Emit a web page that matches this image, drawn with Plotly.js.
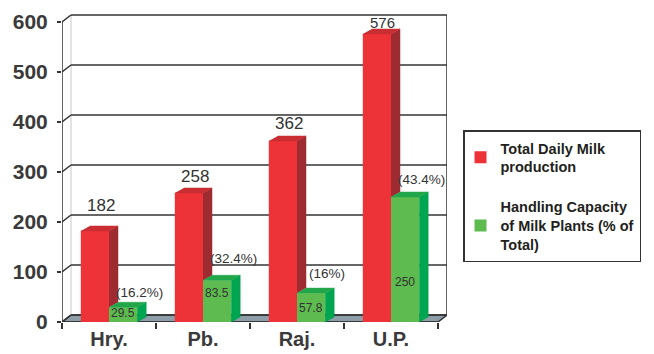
<!DOCTYPE html>
<html>
<head>
<meta charset="utf-8">
<script src="https://cdn.plot.ly/plotly-3.0.1.min.js"></script>
<style>
  html, body { margin: 0; padding: 0; background: #fff; }
  #chart { width: 654px; height: 354px; }
</style>
</head>
<body>
<div id="chart"></div>
<script>
// States and the two series (thousand tonnes per day)
const states = ['Hry.', 'Pb.', 'Raj.', 'U.P.'];
const milkProduction = [182, 258, 362, 576];
const plantCapacity = [29.5, 83.5, 57.8, 250];
const yTicks = [0, 100, 200, 300, 400, 500, 600];

// Pixel scale of the plot area, used to turn the 3-D depth offsets into axis units
const PX_PER_CAT = 94;
const PX_PER_UNIT = 0.5;
const wallDX = 9 / PX_PER_CAT, wallDY = 7 / PX_PER_UNIT;
const barDX = 9 / PX_PER_CAT, barDY = 5 / PX_PER_UNIT;
const barW = 0.3;
const xMin = -0.5, xFront = states.length - 0.5;

const FONT = 'Liberation Sans, Arial, sans-serif';
const RED = '#ee3338', RED_SIDE = '#9d2b2f', RED_TOP = '#c92e33';
const GREEN = '#5dbb4f', GREEN_SIDE = '#00a551', GREEN_TOP = '#22a64a';
const INK = '#333333';

const idx = states.map((_, i) => i);

// Collect polygons into one fill trace, separated by gaps
function faceTrace(polys, color) {
  const x = [], y = [];
  polys.forEach(p => { p.forEach(([a, b]) => { x.push(a); y.push(b); }); x.push(null); y.push(null); });
  return {
    type: 'scatter', mode: 'lines', x, y, fill: 'toself', fillcolor: color,
    line: { color: color, width: 0.5 }, showlegend: false, hoverinfo: 'skip'
  };
}

const redSide = idx.map(i => {
  const r = milkProduction[i], g = plantCapacity[i];
  return [[i, g], [i + barDX, g + barDY], [i + barDX, r + barDY], [i, r]];
});
const redTop = idx.map(i => {
  const r = milkProduction[i];
  return [[i - barW, r], [i, r], [i + barDX, r + barDY], [i - barW + barDX, r + barDY]];
});
const greenSide = idx.map(i => {
  const g = plantCapacity[i], xr = i + barW;
  return [[xr, 0], [xr + barDX, barDY], [xr + barDX, g + barDY], [xr, g]];
});
const greenTop = idx.map(i => {
  const g = plantCapacity[i];
  return [[i, g], [i + barW, g], [i + barW + barDX, g + barDY], [i + barDX, g + barDY]];
});

const traces = [
  {
    type: 'bar', name: 'Total Daily Milk<br>production', x: idx, y: milkProduction,
    width: barW, offset: -barW, marker: { color: RED, line: { width: 0 } },
    legendgroup: 'a', hoverinfo: 'skip'
  },
  {
    type: 'bar', name: 'Handling Capacity<br>of Milk Plants (% of<br>Total)', x: idx, y: plantCapacity,
    width: barW, offset: 0, marker: { color: GREEN, line: { width: 0 } },
    legendgroup: 'b', hoverinfo: 'skip'
  },
  faceTrace(redSide, RED_SIDE),
  faceTrace(redTop, RED_TOP),
  faceTrace(greenSide, GREEN_SIDE),
  faceTrace(greenTop, GREEN_TOP)
];

// Walls, floor and gridlines of the 3-D frame
const shapes = [];
shapes.push({
  type: 'path', layer: 'below',
  path: `M${xMin},0 L${xFront},0 L${xFront + wallDX},${wallDY} L${xMin + wallDX},${wallDY} Z`,
  fillcolor: '#8e9ea9', line: { color: INK, width: 1.5 }
});
shapes.push({
  type: 'line', layer: 'below', x0: xMin + wallDX, x1: xMin + wallDX, y0: wallDY, y1: 600 + wallDY,
  line: { color: '#c8c8c8', width: 1 }
});
shapes.push({
  type: 'line', layer: 'below', x0: xFront + wallDX, x1: xFront + wallDX, y0: wallDY, y1: 600 + wallDY,
  line: { color: INK, width: 1.5 }
});
yTicks.forEach(v => {
  shapes.push({
    type: 'line', layer: 'below', x0: xMin, y0: v, x1: xMin + wallDX, y1: v + wallDY,
    line: { color: INK, width: 1.5 }
  });
  shapes.push({
    type: 'line', layer: 'below', x0: xMin + wallDX, y0: v + wallDY, x1: xFront + wallDX, y1: v + wallDY,
    line: { color: INK, width: 1.5 }
  });
});
// front axis lines
shapes.push({ type: 'line', layer: 'below', x0: xMin, x1: xMin, y0: 0, y1: 600, line: { color: INK, width: 1.5 } });
shapes.push({ type: 'line', layer: 'below', x0: xMin, x1: xFront, y0: 0, y1: 0, line: { color: INK, width: 1.5 } });

// Value labels
const redLift = [26, 17, 18, 12];
const redSize = [17, 17, 17, 15];
const inShift = [2, 8, 0, -22];
const pctLift = [15, 22, 20, 18];
const annotations = [];
idx.forEach(i => {
  const r = milkProduction[i], g = plantCapacity[i];
  annotations.push({
    x: i - barW / 2, y: r, xshift: 6, yshift: redLift[i], text: String(r), showarrow: false,
    yanchor: 'middle', font: { family: FONT, size: redSize[i], color: INK }
  });
  annotations.push({
    x: i + barW / 2, y: g / 2, yshift: inShift[i], text: String(g), showarrow: false,
    yanchor: 'middle', font: { family: FONT, size: 12, color: INK }
  });
  const pct = (g / r * 100).toFixed(1).replace(/\.0$/, '');
  annotations.push({
    x: i + barW / 2, y: g, xshift: 16, yshift: pctLift[i], text: '(' + pct + '%)', showarrow: false,
    yanchor: 'middle', font: { family: FONT, size: 13.5, color: INK }
  });
});

const layout = {
  width: 654, height: 354,
  margin: { l: 62, r: 207, t: 14, b: 32, autoexpand: false },
  paper_bgcolor: '#fff', plot_bgcolor: 'rgba(0,0,0,0)',
  barmode: 'overlay',
  font: { family: FONT, color: INK },
  xaxis: {
    range: [xMin, xMin + 385 / PX_PER_CAT], tickvals: idx, ticktext: states,
    ticks: '', showgrid: false, zeroline: false, showline: false, fixedrange: true,
    ticklabelstandoff: 3,
    tickfont: { family: FONT, size: 20, weight: 'bold', color: '#3a3a3a' },
    minor: { tickvals: [-0.5, 0.5, 1.5, 2.5, 3.5], ticks: 'outside', ticklen: 6, tickwidth: 1.5, tickcolor: INK, showgrid: false }
  },
  yaxis: {
    range: [0, 616], tickvals: yTicks, ticks: 'outside', ticklen: 4, tickwidth: 1.5, tickcolor: INK,
    showgrid: false, zeroline: false, showline: false, fixedrange: true, ticklabelstandoff: 5,
    tickfont: { family: FONT, size: 21, weight: 'bold', color: '#3a3a3a' }
  },
  legend: {
    x: 1.0416, y: 0.622, xanchor: 'left', yanchor: 'top',
    bordercolor: INK, borderwidth: 1.5, bgcolor: 'rgba(0,0,0,0)',
    font: { family: FONT, size: 14.5, weight: 'bold', color: '#231f20' },
    tracegroupgap: 18, indentation: -4, traceorder: 'grouped'
  },
  shapes, annotations,
  hovermode: false
};

Plotly.newPlot('chart', traces, layout, { displayModeBar: false, staticPlot: true });
</script>
</body>
</html>
